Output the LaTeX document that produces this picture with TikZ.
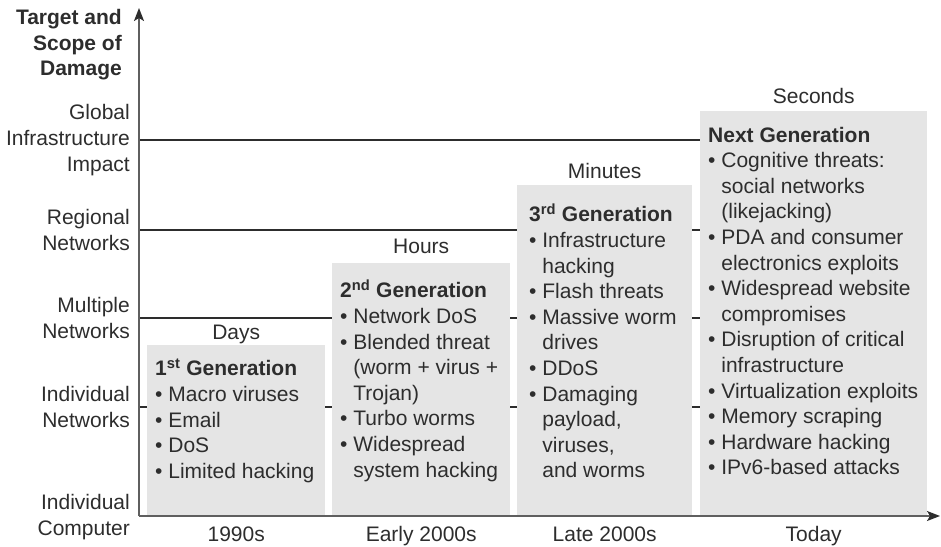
\documentclass[tikz,border=0pt]{standalone}
\usepackage{fontspec}
\setmainfont{Liberation Sans}
\usetikzlibrary{arrows.meta,positioning,backgrounds}
\definecolor{boxgray}{RGB}{229,229,229}
\definecolor{inkgray}{RGB}{45,45,45}
\definecolor{axisgray}{RGB}{95,95,95}
\newcommand{\itm}{\textbullet\ }
\newcommand{\cont}{\phantom{\textbullet\ }}

\begin{document}
\begin{tikzpicture}[x=1pt,y=-1pt,
  every node/.style={text=inkgray,font=\fontsize{21}{25.6}\selectfont},
  genbox/.style={fill=boxgray,draw=none,inner sep=0pt,anchor=south west},
  gentext/.style={align=left,inner sep=0pt,anchor=north west},
  levellbl/.style={align=right,anchor=east,inner sep=0pt},
  timelbl/.style={anchor=base,inner sep=0pt},
  levelline/.style={draw=inkgray,line width=1.7pt},
  axisline/.style={draw=axisgray,line width=1.7pt,-{Stealth[length=13pt,width=10pt,inset=3pt,color=inkgray]}}]
  \useasboundingbox (0,0) rectangle (941,546);

  \coordinate (o) at (139,516);
  \coordinate (ytip) at (139,8);
  \coordinate (xtip) at (940,516);

  % generation boxes
  \node[genbox,minimum width=178,minimum height=171] (g1) at (147,516) {};
  \node[genbox,minimum width=178,minimum height=253] (g2) at (332,516) {};
  \node[genbox,minimum width=175,minimum height=331] (g3) at (517,516) {};
  \node[genbox,minimum width=227,minimum height=405] (g4) at (700,516) {};

  % box contents
  \node[gentext] (t1) at ([xshift=8pt,yshift=-14pt]g1.north west)
    {\textbf{1\textsuperscript{st} Generation}\\
     \itm Macro viruses\\
     \itm Email\\
     \itm DoS\\
     \itm Limited hacking};
  \node[gentext] (t2) at ([xshift=8pt,yshift=-17pt]g2.north west)
    {\textbf{2\textsuperscript{nd} Generation}\\
     \itm Network DoS\\
     \itm Blended threat\\
     \cont(worm + virus +\\
     \cont Trojan)\\
     \itm Turbo worms\\
     \itm Widespread\\
     \cont system hacking};
  \node[gentext] (t3) at ([xshift=12pt,yshift=-19pt]g3.north west)
    {\textbf{3\textsuperscript{rd} Generation}\\
     \itm Infrastructure\\
     \cont hacking\\
     \itm Flash threats\\
     \itm Massive worm\\
     \cont drives\\
     \itm DDoS\\
     \itm Damaging\\
     \cont payload,\\
     \cont viruses,\\
     \cont and worms};
  \node[gentext] (t4) at ([xshift=8pt,yshift=-16pt]g4.north west)
    {\textbf{Next Generation}\\
     \itm Cognitive threats:\\
     \cont social networks\\
     \cont (likejacking)\\
     \itm PDA and consumer\\
     \cont electronics exploits\\
     \itm Widespread website\\
     \cont compromises\\
     \itm Disruption of critical\\
     \cont infrastructure\\
     \itm Virtualization exploits\\
     \itm Memory scraping\\
     \itm Hardware hacking\\
     \itm IPv6-based attacks};

  % speed labels
  \node[timelbl] (days) at ([yshift=5pt]g1.north) {Days};
  \node[timelbl] (hours) at ([yshift=9pt]g2.north) {Hours};
  \node[timelbl] (mins) at ([yshift=6pt]g3.north) {Minutes};
  \node[timelbl] (secs) at ([yshift=7pt]g4.north) {Seconds};

  % era labels
  \node[timelbl] (era1) at ([yshift=-25pt]g1.south) {1990s};
  \node[timelbl] (era2) at ([yshift=-25pt]g2.south) {Early 2000s};
  \node[timelbl] (era3) at ([yshift=-25pt]g3.south) {Late 2000s};
  \node[timelbl] (era4) at ([yshift=-25pt]g4.south) {Today};

  % damage levels
  \node[levellbl,font=\fontsize{21}{25.6}\selectfont\bfseries,anchor=north east] (ttl) at (122,9)
    {Target and\\Scope of\\Damage};
  \node[levellbl] (lglob) at (130,140) {Global\\Infrastructure\\Impact};
  \node[levellbl] (lreg) at (130,230) {Regional\\Networks};
  \node[levellbl] (lmul) at (130,318) {Multiple\\Networks};
  \node[levellbl] (lind) at (130,407) {Individual\\Networks};
  \node[levellbl] (lcomp) at (130,517) {Individual\\Computer};

  \begin{scope}[on background layer]
    \foreach \lv in {lglob,lreg,lmul,lind}
      \draw[levelline] (\lv.east -| o) -- (\lv.east -| g4.west);
  \end{scope}

  % axes
  \draw[axisline] (o) -- (ytip);
  \draw[axisline] (o) -- (xtip);
\end{tikzpicture}
\end{document}
